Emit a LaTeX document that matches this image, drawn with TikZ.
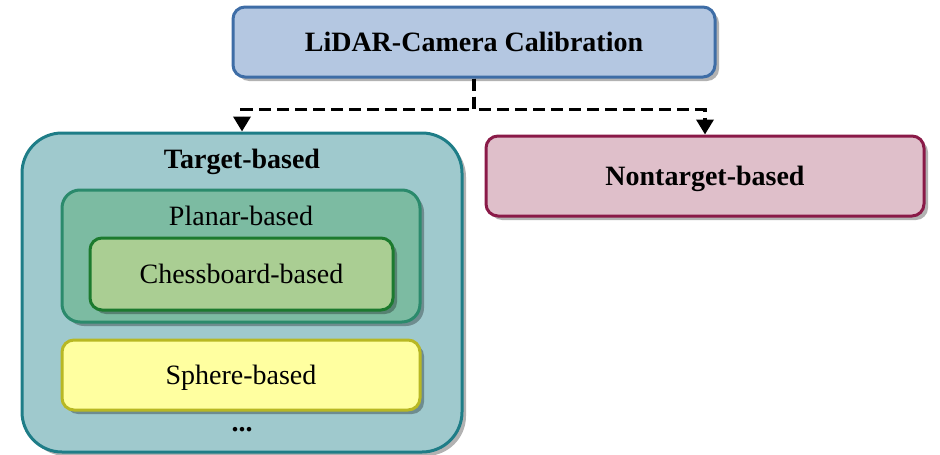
\documentclass[tikz,border=0pt]{standalone}
\usepackage{fontspec}
\setmainfont{Liberation Serif}
\usetikzlibrary{arrows.meta,shadows}

\definecolor{calibfill}{HTML}{B4C7E1}
\definecolor{calibline}{HTML}{3E6DA6}
\definecolor{targetfill}{HTML}{9FC9CD}
\definecolor{targetline}{HTML}{1E7D87}
\definecolor{planarfill}{HTML}{7CBBA2}
\definecolor{planarline}{HTML}{2B8A6C}
\definecolor{chessfill}{HTML}{AACE93}
\definecolor{chessline}{HTML}{1C7A2E}
\definecolor{spherefill}{HTML}{FFFFA0}
\definecolor{sphereline}{HTML}{B8B823}
\definecolor{nontargetfill}{HTML}{DFBFCA}
\definecolor{nontargetline}{HTML}{8A1A48}

\begin{document}
\begin{tikzpicture}[x=1pt, y=-1pt,
    box/.style={draw, line width=3pt, rounded corners=12pt, align=center,
      font=\fontsize{28}{32}\selectfont,
      drop shadow={shadow xshift=4pt, shadow yshift=-4pt, fill=black, opacity=.3}},
    boldbox/.style={box, font=\fontsize{28}{32}\selectfont\bfseries},
    txt/.style={font=\fontsize{28}{32}\selectfont, inner sep=0pt},
    link/.style={line width=3.5pt, dash pattern=on 12pt off 6pt,
      -{Triangle[width=17pt,length=15pt]}}]
  \useasboundingbox (0,0) rectangle (940,455);

  \node[boldbox, fill=calibfill, draw=calibline, minimum width=482pt, minimum height=70pt] (calib) at (474,42) {LiDAR-Camera Calibration};

  % target-based group, nested boxes
  \node[box, fill=targetfill, draw=targetline, rounded corners=40pt, minimum width=440pt, minimum height=319pt] (target) at (242,292.5) {};
  \node[txt, font=\fontsize{28}{32}\selectfont\bfseries] (targetlbl) at ([yshift=-30pt]target.north) {Target-based};
  \node[box, fill=planarfill, draw=planarline, rounded corners=18pt, minimum width=358pt, minimum height=132pt] (planar) at (241,256) {};
  \node[txt] (planarlbl) at ([yshift=-27pt]planar.north) {Planar-based};
  \node[box, fill=chessfill, draw=chessline, minimum width=303pt, minimum height=72pt] (chess) at (241.5,274) {Chessboard-based};
  \node[box, fill=spherefill, draw=sphereline, minimum width=358pt, minimum height=70pt] (sphere) at (241,375) {};
  \node[txt] (spherelbl) at ([yshift=-3pt]sphere.center) {Sphere-based};
  \node[txt, font=\fontsize{28}{32}\selectfont\bfseries] (dots) at ([yshift=24pt]target.south) {...};

  \node[boldbox, fill=nontargetfill, draw=nontargetline, minimum width=438pt, minimum height=80pt, text depth=0pt] (nontarget) at (705,176) {Nontarget-based};

  \draw[link] (calib.south) -- ++(0,31) -| (target.north);
  \draw[link] (calib.south) -- ++(0,31) -| (nontarget.north);
\end{tikzpicture}
\end{document}
